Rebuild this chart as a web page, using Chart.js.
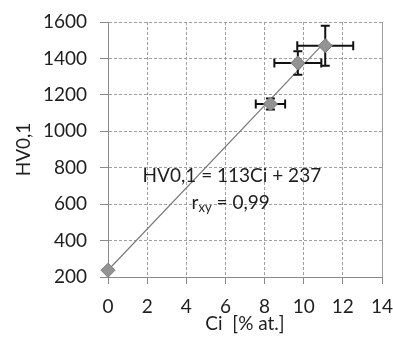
<!DOCTYPE html>
<html><head><meta charset="utf-8">
<script src="https://cdn.jsdelivr.net/npm/chart.js@4"></script>
<style>html,body{margin:0;padding:0;background:#fff}#wrap{width:393px;height:338px}</style>
</head><body><div id="wrap"><canvas id="c" width="393" height="338"></canvas></div>
<script>
const ciValues = [0, 8.3, 9.7, 11.1];
const hvValues = [237, 1150, 1375, 1470];
const ciErrors = [0, 0.75, 1.2, 1.43];
const hvErrors = [0, 30, 65, 110];
const fitCi = [0, 11.2];
const fitHv = [237, 1503];
const equationText = 'HV0,1 = 113Ci + 237';
const rLabel = 'r';
const rSub = 'xy';
const rValue = ' = 0,99';
const xTitle = 'Ci  [% at.]';
const yTitle = 'HV0,1';

const FONT = 'Lato, "Open Sans", sans-serif';
const TXT = '#1e1e1e';

const errorBars = {
  id: 'errorBars',
  afterDatasetDraw(chart, args) {
    if (args.index !== 0) return;
    const {ctx, scales: {x, y}} = chart;
    ctx.save();
    ctx.strokeStyle = '#111';
    ctx.lineWidth = 2;
    const cap = 4.5;
    ciValues.forEach((cx, i) => {
      const px = x.getPixelForValue(cx), py = y.getPixelForValue(hvValues[i]);
      if (ciErrors[i] > 0) {
        const x1 = x.getPixelForValue(cx - ciErrors[i]), x2 = x.getPixelForValue(cx + ciErrors[i]);
        ctx.beginPath();
        ctx.moveTo(x1, py); ctx.lineTo(x2, py);
        ctx.moveTo(x1, py - cap); ctx.lineTo(x1, py + cap);
        ctx.moveTo(x2, py - cap); ctx.lineTo(x2, py + cap);
        ctx.stroke();
      }
      if (hvErrors[i] > 0) {
        const y1 = y.getPixelForValue(hvValues[i] - hvErrors[i]), y2 = y.getPixelForValue(hvValues[i] + hvErrors[i]);
        ctx.beginPath();
        ctx.moveTo(px, y1); ctx.lineTo(px, y2);
        ctx.moveTo(px - cap, y1); ctx.lineTo(px + cap, y1);
        ctx.moveTo(px - cap, y2); ctx.lineTo(px + cap, y2);
        ctx.stroke();
      }
    });
    ctx.restore();
  },
  beforeDatasetsDraw(chart) {
    const {ctx, chartArea: a} = chart;
    ctx.save();
    ctx.strokeStyle = '#a0a0a0';
    ctx.lineWidth = 1;
    ctx.beginPath();
    ctx.moveTo(a.right + 0.5, a.top);
    ctx.lineTo(a.right + 0.5, a.bottom);
    ctx.stroke();
    ctx.restore();
  },
  afterDraw(chart) {
    const {ctx, scales: {x, y}} = chart;
    ctx.save();
    ctx.fillStyle = TXT;
    ctx.textBaseline = 'middle';
    ctx.font = '19px ' + FONT;
    ctx.textAlign = 'center';
    ctx.fillText(equationText, x.getPixelForValue(6.33), y.getPixelForValue(755));
    ctx.textAlign = 'left';
    let px = x.getPixelForValue(4.27), py = y.getPixelForValue(606);
    ctx.fillText(rLabel, px, py);
    px += ctx.measureText(rLabel).width;
    ctx.font = '13px ' + FONT;
    ctx.fillText(rSub, px, py + 5);
    px += ctx.measureText(rSub).width;
    ctx.font = '19px ' + FONT;
    ctx.fillText(rValue, px, py);
    ctx.restore();
  }
};

new Chart(document.getElementById('c'), {
  type: 'scatter',
  data: {
    datasets: [
      {
        type: 'line',
        data: fitCi.map((v, i) => ({x: v, y: fitHv[i]})),
        borderColor: '#7a7a7a',
        borderWidth: 1.2,
        pointRadius: 0,
        fill: false,
        clip: false,
        order: 2
      },
      {
        data: ciValues.map((v, i) => ({x: v, y: hvValues[i]})),
        pointStyle: 'rectRot',
        pointRadius: 7,
        backgroundColor: '#939393',
        borderColor: '#7c7c7c',
        borderWidth: 1,
        clip: false,
        order: 1
      }
    ]
  },
  options: {
    responsive: false,
    animation: false,
    devicePixelRatio: 1,
    layout: {padding: {top: 22, right: 11, left: 0, bottom: 0}},
    plugins: {legend: {display: false}, tooltip: {enabled: false}},
    scales: {
      x: {
        type: 'linear', min: 0, max: 14,
        afterFit(s) { s.height = 61; s.paddingRight = 0; s.paddingLeft = 0; },
        ticks: {stepSize: 2, color: TXT, font: {family: FONT, size: 19}, padding: 11,
          callback: v => String(v)},
        grid: {color: '#a0a0a0', lineWidth: 1, tickLength: 7, tickColor: '#8a8a8a', tickBorderDash: []},
        border: {display: true, color: '#8a8a8a', width: 1, dash: [3, 2]},
        title: {display: true, text: xTitle, color: TXT, font: {family: FONT, size: 19}, padding: {top: 0, bottom: 3}}
      },
      y: {
        type: 'linear', min: 200, max: 1600,
        afterFit(s) { s.width = 108; s.paddingTop = 0; s.paddingBottom = 0; },
        ticks: {stepSize: 200, color: TXT, font: {family: FONT, size: 19}, padding: 13,
          callback: v => String(v)},
        grid: {color: '#a0a0a0', lineWidth: 1, tickLength: 8, tickColor: '#8a8a8a', tickBorderDash: []},
        border: {display: true, color: '#8a8a8a', width: 1, dash: [3, 2]},
        title: {display: true, text: yTitle, color: TXT, font: {family: FONT, size: 19}, padding: {top: 12, bottom: 0}}
      }
    }
  },
  plugins: [errorBars]
});
</script>
</body></html>
